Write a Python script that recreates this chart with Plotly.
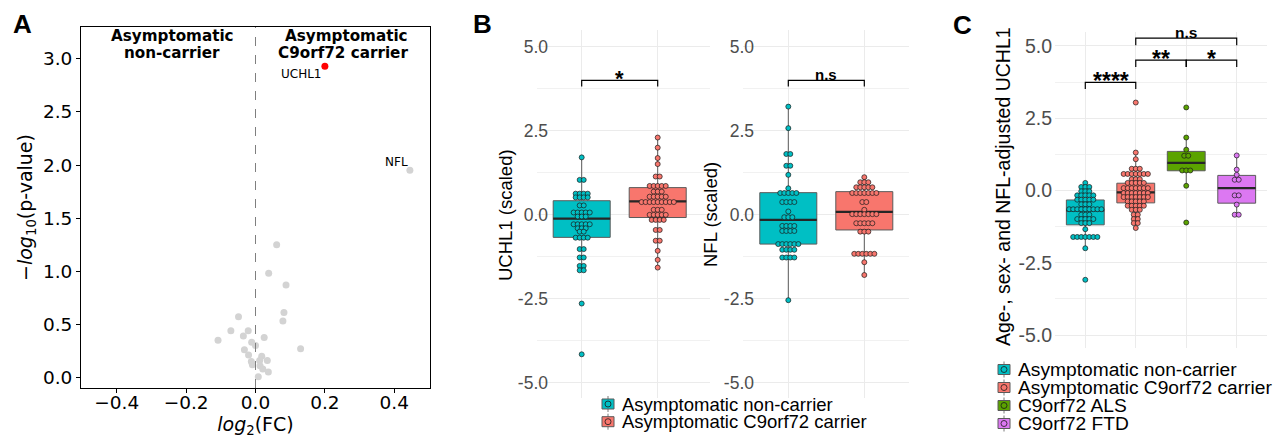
import plotly.graph_objects as go
from collections import Counter

W, H = 1283, 436
OFF = 8  # page body margin of the browser


def px(x):
    return (x - OFF) / W


def py(y):
    return 1 - (y - OFF) / H


# ---------------- data ----------------
# Panel A: volcano
volcano_fc = [0.061, 0.038, 0.088, 0.082, 0.079, -0.049, -0.071, -0.021, -0.035, 0.025,
              -0.108, -0.011, 0.0, 0.13, -0.032, -0.02, 0.018, 0.034, -0.012, 0.012,
              -0.009, 0.013, 0.021, 0.037, 0.008, 0.445]
volcano_logp = [1.25, 0.98, 0.87, 0.61, 0.53, 0.57, 0.44, 0.44, 0.39, 0.375,
                0.35, 0.33, 0.30, 0.27, 0.26, 0.21, 0.20, 0.16, 0.15, 0.16,
                0.12, 0.11, 0.08, 0.05, 0.006, 1.95]
sig_fc = [0.20]
sig_logp = [2.93]
volcano_labels = ["UCHL1", "NFL"]
volcano_label_fc = [0.20, 0.445]
volcano_label_logp = [2.93, 1.95]

# group names and colours
groups_b = ["Asymptomatic non-carrier", "Asymptomatic C9orf72 carrier"]
groups_c = ["Asymptomatic non-carrier", "Asymptomatic C9orf72 carrier", "C9orf72 ALS", "C9orf72 FTD"]
colors_c = ["#00BFC4", "#F8766D", "#5BA300", "#DC78F2"]

# Panel B
uchl1_nc = [1.71, 1.04, 1.04, 0.63, 0.63, 0.63, 0.63, 0.52, 0.52, 0.52, 0.52, 0.28, 0.28,
            0.07, 0.07, 0.07, 0.07, 0.07, -0.05, -0.05, -0.05, -0.28, -0.28, -0.28, -0.28, -0.28,
            -0.40, -0.40, -0.40, -0.50, -0.50, -0.68, -0.68, -0.68, -0.68, -1.02, -1.02,
            -1.27, -1.27, -1.52, -1.52, -1.65, -1.65, -2.64, -4.15]
uchl1_car = [2.30, 2.00, 1.69, 1.51, 1.14, 1.14, 0.86, 0.86, 0.86, 0.86, 0.86, 0.69, 0.69, 0.69,
             0.54, 0.54, 0.54, 0.54, 0.54, 0.38, 0.38, 0.38, 0.38, 0.38, 0.38, 0.38, 0.38, 0.38,
             0.15, 0.15, 0.15, 0.0, 0.0, 0.0, 0.0, 0.0, -0.15, -0.15, -0.15, -0.15,
             -0.45, -0.45, -0.77, -0.77, -1.07, -1.34, -1.57]
nfl_nc = [3.22, 2.58, 1.81, 1.81, 1.46, 1.46, 1.19, 0.79, 0.65, 0.65, 0.65, 0.65, 0.65,
          0.38, 0.38, 0.38, 0.38, 0.10, -0.07, -0.07, -0.07, -0.33, -0.33, -0.33, -0.33,
          -0.48, -0.48, -0.48, -0.48, -0.87, -0.87, -0.87, -0.87, -0.87, -0.87,
          -1.04, -1.04, -1.04, -1.04, -1.27, -1.27, -1.27, -1.27, -2.54]
nfl_car = [1.12, 0.97, 0.97, 0.97, 0.82, 0.82, 0.82, 0.82, 0.82, 0.65, 0.65, 0.65, 0.65, 0.65,
           0.65, 0.65, 0.38, 0.38, 0.15, 0.02, 0.02, 0.02, 0.02, 0.02, 0.02, 0.02,
           -0.25, -0.25, -0.25, -0.25, -0.25, -0.50, -0.50, -0.50,
           -1.16, -1.16, -1.16, -1.16, -1.16, -1.16, -1.41, -1.79]

# box stats: [lower whisker, q1, median, q3, upper whisker]
box_uchl1_nc = [-1.64, -0.67, -0.11, 0.42, 1.71]
box_uchl1_car = [-1.57, -0.08, 0.40, 0.81, 2.31]
box_nfl_nc = [-2.54, -0.87, -0.15, 0.66, 3.22]
box_nfl_car = [-1.81, -0.45, 0.09, 0.69, 1.14]

# Panel C
adj_nc = [0.26, 0.12, 0.12, 0.12, -0.03, -0.03, -0.03, -0.17, -0.17, -0.17, -0.17, -0.17,
          -0.32, -0.32, -0.32, -0.32, -0.32, -0.48, -0.48, -0.48,
          -0.65, -0.65, -0.65, -0.65, -0.65, -0.65, -0.65, -0.65, -0.65,
          -0.84, -0.84, -0.84, -0.99, -0.99, -0.99, -0.99, -0.99, -1.13, -1.13, -1.13,
          -1.34, -1.61, -1.61, -1.61, -1.61, -1.61, -1.61, -1.61, -2.0, -3.09]
adj_car = [3.04, 1.31, 1.08, 0.75, 0.75, 0.75, 0.57, 0.57, 0.57, 0.57, 0.57, 0.57, 0.57,
           0.39, 0.39, 0.39, 0.26, 0.26, 0.26, 0.26, 0.26,
           0.08, 0.08, 0.08, 0.08, 0.08, 0.08, 0.08, -0.09, -0.09, -0.09, -0.09, -0.09, -0.09, -0.09,
           -0.23, -0.23, -0.23, -0.23, -0.23, -0.23, -0.23, -0.38, -0.38, -0.38, -0.38, -0.38,
           -0.53, -0.53, -0.53, -0.53, -0.53, -0.67, -0.67, -0.67, -0.84, -0.84, -0.99, -0.99,
           -1.13, -1.13, -1.30]
adj_als = [2.87, 1.83, 1.41, 1.20, 1.20, 0.69, 0.69, 0.69, 0.16, -1.11]
adj_ftd = [1.21, 0.72, 0.54, 0.37, 0.37, -0.17, -0.17, -0.49, -0.84, -0.84]
box_adj = [[-2.0, -1.19, -0.69, -0.33, 0.27],
           [-1.30, -0.43, -0.07, 0.25, 1.31],
           [0.14, 0.68, 0.95, 1.35, 1.85],
           [-0.87, -0.44, 0.08, 0.52, 1.23]]

y_ticks = [-5, -2.5, 0, 2.5, 5]
y_ticktext = ["-5.0", "-2.5", "0.0", "2.5", "5.0"]

# ---------------- figure ----------------
fig = go.Figure()
SANS = "Liberation Sans, Arial, sans-serif"
DJV = "DejaVu Sans, sans-serif"


def stack(values, pos, spacing):
    cnt = Counter(values)
    seen = {}
    xs = []
    for v in values:
        n = cnt[v]
        i = seen.get(v, 0)
        seen[v] = i + 1
        xs.append(pos + (i - (n - 1) / 2) * spacing)
    return xs


def add_group(values, stats, pos, color, xa, ya, spacing):
    lo, q1, med, q3, hi = stats
    fig.add_trace(go.Box(x=[pos], q1=[q1], median=[med], q3=[q3], lowerfence=[lo], upperfence=[hi],
                         width=0.75, fillcolor=color, line=dict(color="#5a5a5a", width=1),
                         whiskerwidth=0, boxpoints=False, xaxis=xa, yaxis=ya,
                         showlegend=False, hoverinfo="skip"))
    fig.add_trace(go.Scatter(x=[pos - 0.375, pos + 0.375], y=[med, med], mode="lines",
                             line=dict(color="#262626", width=2.2), xaxis=xa, yaxis=ya,
                             showlegend=False, hoverinfo="skip"))
    fig.add_trace(go.Scatter(x=stack(values, pos, spacing), y=values, mode="markers",
                             marker=dict(size=5, color=color, line=dict(color="#1a1a1a", width=0.7)),
                             xaxis=xa, yaxis=ya, showlegend=False, hoverinfo="skip"))


def bracket(x1, x2, y, drop, text, xa, ya, size=17, yshift=-5):
    fig.add_trace(go.Scatter(x=[x1, x1, x2, x2], y=[y - drop, y, y, y - drop], mode="lines",
                             line=dict(color="black", width=1.2), xaxis=xa, yaxis=ya,
                             showlegend=False, hoverinfo="skip", cliponaxis=False))
    fig.add_annotation(x=(x1 + x2) / 2, y=y, xref=xa, yref=ya, text="<b>%s</b>" % text,
                       showarrow=False, xanchor="center", yanchor="bottom", yshift=yshift,
                       font=dict(family=SANS, size=size, color="black"))


# Panel A
fig.add_trace(go.Scatter(x=volcano_fc, y=volcano_logp, mode="markers",
                         marker=dict(size=7, color="#D3D3D3"), showlegend=False,
                         xaxis="x", yaxis="y", hoverinfo="skip"))
fig.add_trace(go.Scatter(x=sig_fc, y=sig_logp, mode="markers",
                         marker=dict(size=7, color="#FF0000"), showlegend=False,
                         xaxis="x", yaxis="y", hoverinfo="skip"))
fig.add_shape(type="line", x0=0, x1=0, y0=0, y1=1, xref="x", yref="y domain",
              line=dict(color="#7f7f7f", width=1, dash="dash"))
fig.add_annotation(x=volcano_label_fc[0], y=volcano_label_logp[0], xref="x", yref="y",
                   text=volcano_labels[0], showarrow=False, xanchor="right", yanchor="top",
                   xshift=-1, yshift=1, font=dict(family=DJV, size=12, color="black"))
fig.add_annotation(x=volcano_label_fc[1], y=volcano_label_logp[1], xref="x", yref="y",
                   text=volcano_labels[1], showarrow=False, xanchor="right", yanchor="bottom",
                   xshift=0, yshift=-1, font=dict(family=DJV, size=12, color="black"))
for txt, cx, cy in [("Asymptomatic", 172, 36), ("non-carrier", 172, 53),
                    ("Asymptomatic", 346, 36), ("C9orf72 carrier", 343, 53)]:
    fig.add_annotation(x=px(cx), y=py(cy), xref="paper", yref="paper", text="<b>%s</b>" % txt,
                       showarrow=False, xanchor="center", yanchor="middle",
                       font=dict(family=DJV, size=15.2, color="black"))

# Panel B
add_group(uchl1_nc, box_uchl1_nc, 1, colors_c[0], "x2", "y2", 0.053)
add_group(uchl1_car, box_uchl1_car, 2, colors_c[1], "x2", "y2", 0.053)
add_group(nfl_nc, box_nfl_nc, 1, colors_c[0], "x3", "y3", 0.053)
add_group(nfl_car, box_nfl_car, 2, colors_c[1], "x3", "y3", 0.053)
bracket(1, 2, 4.0, 0.18, "*", "x2", "y2", size=22, yshift=-13)
bracket(1, 2, 4.0, 0.18, "n.s", "x3", "y3", size=15, yshift=-5)

# Panel C
for i, vals in enumerate([adj_nc, adj_car, adj_als, adj_ftd]):
    add_group(vals, box_adj[i], i + 1, colors_c[i], "x4", "y4", 0.08)
bracket(1, 2, 3.74, 0.23, "****", "x4", "y4", size=23, yshift=-14)
bracket(2, 3, 4.51, 0.24, "**", "x4", "y4", size=23, yshift=-14)
bracket(3, 4, 4.51, 0.24, "*", "x4", "y4", size=23, yshift=-14)
bracket(2, 4, 5.27, 0.25, "n.s", "x4", "y4", size=15.5, yshift=-4.5)

# axis titles for B and C
fig.add_annotation(x=px(505), y=py(215), xref="paper", yref="paper", textangle=-90,
                   text="UCHL1 (scaled)", showarrow=False, xanchor="center", yanchor="middle",
                   font=dict(family=SANS, size=18.5, color="black"))
fig.add_annotation(x=px(710), y=py(215), xref="paper", yref="paper", textangle=-90,
                   text="NFL (scaled)", showarrow=False, xanchor="center", yanchor="middle",
                   font=dict(family=SANS, size=18.5, color="black"))
fig.add_annotation(x=px(1003), y=py(187), xref="paper", yref="paper", textangle=-90,
                   text="Age-, sex- and NFL-adjusted UCHL1", showarrow=False,
                   xanchor="center", yanchor="middle",
                   font=dict(family=SANS, size=19.5, color="black"))

# panel letters
for letter, cx, cy in [("A", 22, 24), ("B", 482, 24), ("C", 962, 25)]:
    fig.add_annotation(x=px(cx), y=py(cy), xref="paper", yref="paper", text="<b>%s</b>" % letter,
                       showarrow=False, xanchor="center", yanchor="middle",
                       font=dict(family=SANS, size=26, color="black"))


# custom legends
def legend_entry(cx, cy, color, label, size):
    fig.add_shape(type="line", xref="paper", yref="paper", x0=px(cx), x1=px(cx),
                  y0=py(cy - 8), y1=py(cy + 8), line=dict(color="#7a7a7a", width=1))
    fig.add_shape(type="rect", xref="paper", yref="paper", x0=px(cx - 6), x1=px(cx + 6),
                  y0=py(cy + 5), y1=py(cy - 5), fillcolor=color, line=dict(color="#5a5a5a", width=1))
    fig.add_shape(type="circle", xref="paper", yref="paper", x0=px(cx - 3), x1=px(cx + 3),
                  y0=py(cy + 3), y1=py(cy - 3), fillcolor=color, line=dict(color="#1a1a1a", width=0.8))
    fig.add_annotation(x=px(cx + 12), y=py(cy), xref="paper", yref="paper", text=label,
                       showarrow=False, xanchor="left", yanchor="middle",
                       font=dict(family=SANS, size=size, color="black"))


for i, g in enumerate(groups_b):
    legend_entry(608, 404 + i * 17.7, colors_c[i], g, 18.5)
for i, g in enumerate(groups_c):
    legend_entry(1004, 369.5 + i * 18, colors_c[i], g, 19.2)

# axes
ax_a = dict(showline=True, mirror=True, linecolor="black", linewidth=1, ticks="outside",
            ticklen=4, tickcolor="black", showgrid=False, zeroline=False,
            tickfont=dict(family=DJV, size=18.5, color="black"))
fig.update_layout(
    xaxis=dict(domain=[px(81), px(430)], range=[-0.503, 0.503], anchor="y",
               tickvals=[-0.4, -0.2, 0, 0.2, 0.4],
               ticktext=["\u22120.4", "\u22120.2", "0.0", "0.2", "0.4"],
               ticklabelstandoff=-6,
               title=dict(text="<i>log</i><sub>2</sub>(FC)", standoff=2,
                          font=dict(family=DJV, size=19, color="black")), **ax_a),
    yaxis=dict(domain=[py(388), py(27)], range=[-0.1, 3.3], anchor="x",
               tickvals=[0, 0.5, 1, 1.5, 2, 2.5, 3],
               ticktext=["0.0", "0.5", "1.0", "1.5", "2.0", "2.5", "3.0"],
               title=dict(text="\u2212<i>log</i><sub>10</sub>(p-value)", standoff=5,
                          font=dict(family=DJV, size=19, color="black")), **ax_a),
)

gx = dict(tickvals=[1, 2, 3, 4], showticklabels=False, showgrid=True, gridcolor="#EBEBEB",
          gridwidth=1, zeroline=False, showline=False, ticks="")
gy = dict(tickvals=y_ticks, ticktext=y_ticktext, showgrid=True, gridcolor="#EBEBEB", gridwidth=1,
          zeroline=False, showline=False, ticks="",
          minor=dict(tickvals=[-3.75, -1.25, 1.25, 3.75], showgrid=True, gridcolor="#F1F1F1",
                     gridwidth=0.7))
tf_b = dict(family=SANS, size=17.5, color="#4D4D4D")
tf_c = dict(family=SANS, size=19.5, color="#4D4D4D")
fig.update_layout(
    xaxis2=dict(domain=[px(537), px(710)], range=[0.412, 2.688], anchor="y2", **gx),
    yaxis2=dict(domain=[py(398), py(30)], range=[-5.45, 5.5], anchor="x2",
                ticklabelstandoff=-12, tickfont=tf_b, **gy),
    xaxis3=dict(domain=[px(743), px(909)], range=[0.404, 2.588], anchor="y3", **gx),
    yaxis3=dict(domain=[py(398), py(30)], range=[-5.45, 5.5], anchor="x3",
                ticklabelstandoff=-12, tickfont=tf_b, **gy),
    xaxis4=dict(domain=[px(1055), px(1267)], range=[0.4, 4.6], anchor="y4", **gx),
    yaxis4=dict(domain=[py(348.3), py(31.7)], range=[-5.46, 5.49], anchor="x4",
                ticklabelstandoff=2, tickfont=tf_c, **gy),
)

fig.update_layout(width=W, height=H, margin=dict(l=0, r=0, t=0, b=0),
                  paper_bgcolor="white", plot_bgcolor="white", showlegend=False)

fig.write_html("out.html")
